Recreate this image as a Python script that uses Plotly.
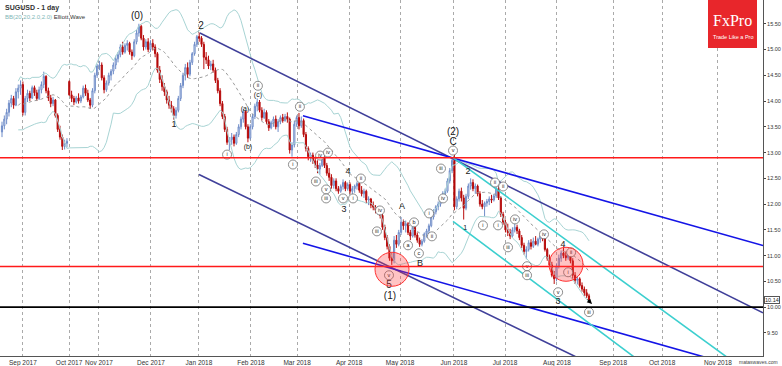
import plotly.graph_objects as go
import pandas as pd

# ---------------- data (bar index = trading day, Aug 2017 .. Aug 2018) ----------------
open_ = [
 13.40,13.52,13.65,13.78,13.96,14.05,13.92,14.18,14.25,
 14.32,13.78,14.05,14.15,14.06,14.26,14.16,14.05,14.22,14.32,14.48,14.20,14.06,13.95,14.02,13.72,13.45,13.30,13.12,13.18,
 14.38,14.12,14.05,13.98,14.06,14.00,14.08,14.25,14.15,14.02,13.92,14.20,14.50,
 14.68,14.70,14.45,14.22,14.35,14.50,14.58,14.70,14.82,14.90,15.05,14.95,15.08,15.12,14.95,14.88,15.15,15.32,15.45,15.22,15.05,15.15,
 15.00,15.12,15.05,14.92,14.60,14.42,14.28,14.18,14.02,13.92,13.85,13.72,13.82,14.05,14.30,14.50,14.65,14.52,14.75,14.92,15.10,
 15.25,15.22,15.10,14.85,14.80,14.68,14.72,14.60,14.40,14.20,13.95,13.70,13.45,13.20,13.25,13.30,13.18,13.35,13.50,13.65,13.80,13.50,
 13.28,13.50,13.70,13.90,13.98,13.82,13.68,13.78,13.60,13.48,13.58,13.65,13.50,13.60,13.68,13.62,13.70,13.65,13.05,13.15,
 13.55,13.68,13.52,13.62,13.35,13.08,12.92,12.95,12.84,12.76,12.68,12.75,12.90,12.75,12.60,12.52,12.36,12.45,12.30,12.25,12.34,12.42,12.30,
 12.38,12.25,12.30,12.35,12.40,12.27,12.20,12.25,12.08,12.10,11.98,11.94,11.88,11.92,11.78,11.55,11.35,11.18,10.95,10.90,11.30,11.22,
 11.45,11.65,11.58,11.62,11.45,11.38,11.55,11.40,11.30,11.22,11.28,11.42,11.48,11.58,11.75,11.85,11.95,12.00,12.10,12.20,12.25,12.45,12.65,
 12.85,11.95,12.10,12.25,12.12,11.92,12.15,12.35,12.42,12.30,12.35,12.20,12.00,11.95,12.02,12.05,12.10,12.08,12.16,12.30,12.12,11.80,
 11.65,11.50,11.45,11.38,11.50,11.55,11.48,11.35,11.20,11.08,11.12,11.25,11.18,11.28,11.22,11.32,11.38,11.33,11.12,10.95,10.82,10.62,
 10.55,10.80,10.95,11.05,11.00,10.96,11.04,10.90,10.62,10.52,10.55,10.42,10.35,10.28,10.22,
]
high = [
 13.60,13.72,13.85,14.02,14.12,14.10,14.25,14.32,14.40,
 14.38,14.10,14.22,14.20,14.30,14.30,14.22,14.28,14.38,14.57,14.50,14.26,14.12,14.08,14.04,13.76,13.52,13.35,13.25,13.28,
 14.40,14.20,14.10,14.10,14.15,14.12,14.30,14.32,14.22,14.06,14.25,14.55,14.72,
 14.78,14.75,14.50,14.40,14.55,14.62,14.75,14.88,14.95,15.10,15.15,15.12,15.18,15.15,15.00,15.20,15.38,15.50,15.48,15.28,15.20,15.22,
 15.18,15.20,15.10,14.95,14.68,14.50,14.35,14.22,14.10,14.00,13.90,13.88,14.10,14.35,14.55,14.72,14.75,14.80,14.95,15.15,15.28,
 15.33,15.26,15.15,14.95,14.88,14.78,14.80,14.65,14.45,14.25,14.00,13.75,13.50,13.30,13.38,13.35,13.40,13.55,13.70,13.85,13.82,13.55,
 13.55,13.75,13.95,14.05,14.02,13.88,13.85,13.82,13.65,13.62,13.70,13.72,13.65,13.72,13.75,13.75,13.78,13.68,13.20,13.62,
 13.72,13.77,13.70,13.66,13.40,13.12,13.00,13.00,12.92,12.85,12.80,12.95,12.97,12.80,12.70,12.58,12.50,12.50,12.35,12.38,12.48,12.45,12.42,
 12.42,12.35,12.38,12.44,12.42,12.35,12.30,12.28,12.15,12.12,12.05,11.98,11.96,11.95,11.82,11.60,11.40,11.22,11.05,11.38,11.40,11.50,
 11.75,11.70,11.68,11.65,11.50,11.60,11.58,11.45,11.35,11.32,11.45,11.52,11.62,11.78,11.90,11.98,12.05,12.15,12.25,12.30,12.50,12.70,12.90,
 12.97,12.15,12.30,12.32,12.18,12.20,12.40,12.50,12.48,12.40,12.38,12.25,12.08,12.05,12.10,12.15,12.18,12.20,12.38,12.35,12.15,11.85,
 11.70,11.62,11.52,11.55,11.62,11.60,11.52,11.40,11.25,11.18,11.30,11.32,11.35,11.38,11.35,11.42,11.45,11.36,11.15,11.02,10.88,10.70,
 10.85,11.02,11.10,11.18,11.08,11.08,11.08,10.95,10.68,10.60,10.58,10.48,10.40,10.35,10.26,
]
low = [
 13.30,13.45,13.55,13.70,13.88,13.85,13.90,14.05,14.12,
 13.72,13.72,13.98,14.00,14.04,14.10,14.00,14.02,14.15,14.25,14.15,14.00,13.88,13.90,13.68,13.40,13.25,13.05,13.06,13.10,
 14.10,13.98,13.92,13.95,13.95,13.96,14.05,14.10,13.98,13.85,13.88,14.15,14.45,
 14.60,14.40,14.15,14.18,14.30,14.40,14.52,14.62,14.75,14.85,14.90,14.92,14.98,14.90,14.80,14.85,15.10,15.25,15.18,14.98,15.00,14.95,
 14.95,14.98,14.85,14.55,14.35,14.20,14.10,13.95,13.85,13.78,13.64,13.66,13.78,14.00,14.25,14.40,14.45,14.48,14.70,14.88,15.05,
 15.15,15.05,14.62,14.72,14.62,14.60,14.55,14.35,14.15,13.90,13.65,13.40,13.15,13.05,13.15,13.12,13.15,13.30,13.45,13.58,13.45,13.20,
 13.25,13.45,13.65,13.80,13.78,13.62,13.65,13.55,13.42,13.45,13.50,13.45,13.40,13.55,13.58,13.60,13.58,12.98,12.92,13.10,
 13.50,13.45,13.48,13.30,13.02,12.85,12.82,12.78,12.70,12.60,12.57,12.72,12.70,12.55,12.45,12.30,12.30,12.25,12.20,12.22,12.28,12.25,12.26,
 12.20,12.15,12.22,12.28,12.22,12.15,12.12,12.02,11.98,11.92,11.88,11.82,11.80,11.72,11.50,11.30,11.12,10.90,10.82,10.85,11.15,11.18,
 11.40,11.50,11.45,11.40,11.30,11.35,11.35,11.25,11.17,11.18,11.25,11.35,11.42,11.55,11.70,11.80,11.88,11.95,12.02,12.12,12.22,12.40,12.60,
 11.88,11.90,12.05,12.05,11.70,11.88,12.10,12.28,12.25,12.20,12.15,11.95,11.90,11.76,11.95,11.98,12.02,12.05,12.12,12.08,11.75,11.60,
 11.45,11.38,11.32,11.35,11.45,11.42,11.30,11.15,11.02,10.93,11.08,11.12,11.15,11.20,11.18,11.25,11.28,11.08,10.90,10.78,10.58,10.45,
 10.50,10.75,10.88,10.95,10.90,10.92,10.85,10.55,10.45,10.44,10.38,10.30,10.22,10.18,10.10,
]
close = [
 13.52,13.65,13.78,13.96,14.05,13.92,14.18,14.25,14.32,
 13.78,14.05,14.15,14.06,14.26,14.16,14.05,14.22,14.32,14.48,14.20,14.06,13.95,14.02,13.72,13.45,13.30,13.12,13.18,13.22,
 14.12,14.05,13.98,14.06,14.00,14.08,14.25,14.15,14.02,13.92,14.20,14.50,14.68,
 14.70,14.45,14.22,14.35,14.50,14.58,14.70,14.82,14.90,15.05,14.95,15.08,15.12,14.95,14.88,15.15,15.32,15.45,15.22,15.05,15.15,15.00,
 15.12,15.05,14.92,14.60,14.42,14.28,14.18,14.02,13.92,13.85,13.72,13.82,14.05,14.30,14.50,14.65,14.52,14.75,14.92,15.10,15.25,
 15.22,15.10,14.85,14.80,14.68,14.72,14.60,14.40,14.20,13.95,13.70,13.45,13.20,13.25,13.30,13.18,13.35,13.50,13.65,13.80,13.50,13.28,
 13.50,13.70,13.90,13.98,13.82,13.68,13.78,13.60,13.48,13.58,13.65,13.50,13.60,13.68,13.62,13.70,13.65,13.05,13.15,13.55,
 13.68,13.52,13.62,13.35,13.08,12.92,12.95,12.84,12.76,12.68,12.75,12.90,12.75,12.60,12.52,12.36,12.45,12.30,12.25,12.34,12.42,12.30,12.38,
 12.25,12.30,12.35,12.40,12.27,12.20,12.25,12.08,12.10,11.98,11.94,11.88,11.92,11.78,11.55,11.35,11.18,10.95,10.90,11.30,11.22,11.45,
 11.65,11.58,11.62,11.45,11.38,11.55,11.40,11.30,11.22,11.28,11.42,11.48,11.58,11.75,11.85,11.95,12.00,12.10,12.20,12.25,12.45,12.65,12.85,
 11.95,12.10,12.25,12.12,11.92,12.15,12.35,12.42,12.30,12.35,12.20,12.00,11.95,12.02,12.05,12.10,12.08,12.16,12.30,12.12,11.80,11.65,
 11.50,11.45,11.38,11.50,11.55,11.48,11.35,11.20,11.08,11.12,11.25,11.18,11.28,11.22,11.32,11.38,11.33,11.12,10.95,10.82,10.62,10.55,
 10.80,10.95,11.05,11.00,10.96,11.04,10.90,10.62,10.52,10.55,10.42,10.35,10.28,10.22,10.14,
]
bars = list(range(len(close)))

month_ticks = [9.0, 28.9, 41.8, 64.2, 84.9, 107.3, 127.2, 149.6, 171.6, 194.8, 216.8, 239.2, 263.4, 284.5, 308.6]
month_labels = ["Sep 2017", "Oct 2017", "Nov 2017", "Dec 2017", "Jan 2018", "Feb 2018", "Mar 2018",
                "Apr 2018", "May 2018", "Jun 2018", "Jul 2018", "Aug 2018", "Sep 2018", "Oct 2018", "Nov 2018"]
price_ticks = [9.5, 10.0, 10.5, 11.0, 11.5, 12.0, 12.5, 13.0, 13.5, 14.0, 14.5, 15.0, 15.5]

# trend lines: (bar index pair, price pair)
navy_upper = ([85.3, 328.0], [15.32, 9.89])
navy_lower = ([84.9, 328.0], [12.574, 7.28])
blue_upper = ([129.7, 328.0], [13.716, 11.196])
blue_lower = ([129.7, 328.0], [11.239, 8.71])
cyan_upper = ([194.4, 328.0], [12.903, 8.52])
cyan_lower = ([194.4, 328.0], [11.664, 7.16])
red_levels = [12.90, 10.79]
black_level = 10.00
circles = [(168.1, 10.735), (243.1, 10.832)]

# Elliott wave labels
wave_text = ["(0)", "2", "1", "(2)", "C", "4", "3", "A", "B", "5", "(1)", "2", "1", "4", "3"]
wave_x = [58.2, 85.8, 74.1, 194.4, 194.4, 149.1, 147.4, 172.4, 180.2, 166.8, 167.2, 200.9, 199.6, 241.8, 239.7]
wave_y = [15.632, 15.438, 13.542, 13.387, 13.193, 12.632, 11.897, 11.955, 10.852, 10.426, 10.213, 12.632, 11.529, 11.219, 10.097]
wave_size = [10, 10, 9, 10, 10, 9, 9, 9, 9, 10, 10, 9, 7, 9, 9]

minor_text = ["(a)", "(b)", "(c)"]
minor_x = [104.7, 106.0, 110.3]
minor_y = [13.832, 13.097, 14.122]

circ_text = ["i", "ii", "ii", "i", "iv", "iv", "iii", "v", "iii", "v", "i", "ii", "iv", "iii", "v",
             "a", "b", "c", "i", "ii", "iii", "iv", "v", "ii", "ii", "i", "i", "iii", "iv", "v", "iii",
             "iv", "v", "ii", "i", "iii"]
circ_x = [97.0, 110.3, 128.4, 125.4, 137.1, 140.5, 135.3, 139.7, 139.7, 147.0, 151.3, 154.7, 162.9, 161.6, 166.8,
          175.0, 177.6, 179.7, 184.1, 185.3, 189.2, 190.1, 194.4, 212.5, 216.0, 207.3, 213.8, 218.1, 221.1, 226.3, 226.3,
          233.6, 239.7, 245.3, 244.0, 253.0]
circ_y = [12.961, 14.296, 13.890, 12.768, 12.942, 13.000, 12.439, 12.284, 12.110, 12.110, 12.110, 12.497, 11.877, 11.471, 10.619,
          11.200, 11.645, 11.045, 11.819, 11.374, 12.690, 12.110, 13.039, 12.419, 12.342, 11.587, 11.587, 11.161, 11.703, 10.794, 10.619,
          11.413, 10.290, 11.064, 10.677, 9.903]

# ---------------- figure ----------------
s = pd.Series(close)
bb_mid = s.rolling(20, min_periods=8).mean()
bb_sd = s.rolling(20, min_periods=8).std(ddof=0)
bb_up = bb_mid + 2 * bb_sd
bb_lo = bb_mid - 2 * bb_sd

fig = go.Figure()
teal = "#a8d4d4"
fig.add_trace(go.Scatter(x=bars, y=bb_up, mode="lines", line=dict(color=teal, width=1), hoverinfo="skip"))
fig.add_trace(go.Scatter(x=bars, y=bb_lo, mode="lines", line=dict(color=teal, width=1), hoverinfo="skip"))
fig.add_trace(go.Scatter(x=bars, y=bb_mid, mode="lines", line=dict(color="#9a9a9a", width=1, dash="dot"), hoverinfo="skip"))

fig.add_trace(go.Candlestick(
    x=bars, open=open_, high=high, low=low, close=close,
    increasing=dict(line=dict(color="#6f8cc8", width=1), fillcolor="#f2f5fb"),
    decreasing=dict(line=dict(color="#b80c0c", width=1), fillcolor="#a80000"),
    whiskerwidth=0, hoverinfo="skip"))

for (xs, ys), col in [(navy_upper, "#40409a"), (navy_lower, "#40409a"),
                      (blue_upper, "#1414e6"), (blue_lower, "#1414e6"),
                      (cyan_upper, "#3ccfcf"), (cyan_lower, "#3ccfcf")]:
    fig.add_trace(go.Scatter(x=xs, y=ys, mode="lines", line=dict(color=col, width=1.6), hoverinfo="skip"))

fig.add_trace(go.Scatter(x=wave_x, y=wave_y, mode="text", text=wave_text,
                         textfont=dict(family="Liberation Sans", size=wave_size, color="#202020"),
                         hoverinfo="skip", cliponaxis=False))
fig.add_trace(go.Scatter(x=minor_x, y=minor_y, mode="text", text=minor_text,
                         textfont=dict(family="Liberation Sans", size=7, color="#202020"),
                         hoverinfo="skip"))
fig.add_trace(go.Scatter(x=circ_x, y=circ_y, mode="markers+text", text=circ_text,
                         marker=dict(symbol="circle", size=9, color="white", line=dict(color="#707070", width=0.8)),
                         textfont=dict(family="Liberation Sans", size=5.5, color="#202020"),
                         textposition="middle center", hoverinfo="skip", cliponaxis=False))

shapes = []
for lv in red_levels:
    shapes.append(dict(type="line", xref="paper", x0=0, x1=1, yref="y", y0=lv, y1=lv,
                       line=dict(color="#ff1a1a", width=1.6), layer="above"))
shapes.append(dict(type="line", xref="paper", x0=0, x1=1, yref="y", y0=black_level, y1=black_level,
                   line=dict(color="#000000", width=1.6), layer="above"))
for cx, cy in circles:
    shapes.append(dict(type="circle", xref="x", yref="y", xsizemode="pixel", ysizemode="pixel",
                       xanchor=cx, yanchor=cy, x0=-17, x1=17, y0=-17, y1=17,
                       fillcolor="rgba(255,60,60,0.30)", line=dict(color="#ff3030", width=1), layer="above"))
# logo box
shapes.append(dict(type="rect", xref="paper", yref="paper", x0=708/763, x1=757/763, y0=1-48/356, y1=1,
                   fillcolor="#e8262b", line=dict(width=0), layer="above"))

annotations = [
    dict(xref="paper", yref="paper", x=0.004, y=0.995, xanchor="left", yanchor="top", showarrow=False,
         text="<b>SUGUSD - 1 day</b>", font=dict(family="Liberation Sans", size=7, color="#333")),
    dict(xref="paper", yref="paper", x=0.004, y=0.967, xanchor="left", yanchor="top", showarrow=False,
         text="<span style='color:#7fb7b7'>BB(20,20,2.0,2.0)</span> Elliott Wave",
         font=dict(family="Liberation Sans", size=6, color="#333")),
    dict(xref="paper", yref="paper", x=732.5/763, y=1-21/356, xanchor="center", yanchor="middle",
         showarrow=False, text="FxPro",
         font=dict(family="Liberation Serif", size=16, color="white")),
    dict(xref="paper", yref="paper", x=732.5/763, y=1-37/356, xanchor="center", yanchor="middle",
         showarrow=False, text="Trade Like a Pro",
         font=dict(family="Liberation Sans", size=5.5, color="white")),
    dict(xref="paper", yref="y", x=1.001, y=close[-1], xanchor="left", yanchor="middle", showarrow=False,
         text=f"{close[-1]:.2f}", font=dict(family="Liberation Sans", size=5.5, color="#222"),
         bordercolor="#555", borderwidth=1, borderpad=0, bgcolor="white"),
    dict(xref="paper", yref="paper", x=780/763, y=-0.002, xanchor="right", yanchor="top", showarrow=False,
         text="mataswaves.com", font=dict(family="Liberation Sans", size=5, color="#444")),
    dict(x=254.3, y=10.06, xref="x", yref="y", ax=-6, ay=-6, showarrow=True, arrowhead=2,
         arrowsize=1, arrowwidth=1, arrowcolor="#000", text=""),
]

fig.update_layout(
    width=782, height=366, template="none",
    margin=dict(l=0, r=19, t=0, b=10),
    paper_bgcolor="white", plot_bgcolor="white",
    showlegend=False, shapes=shapes, annotations=annotations,
    xaxis=dict(range=[-0.86, 328.0], tickvals=month_ticks, ticktext=month_labels,
               showgrid=True, gridcolor="#aaaaaa", griddash="dot", gridwidth=1,
               zeroline=False, showline=True, linecolor="#555", linewidth=1, mirror=True,
               ticks="", tickfont=dict(family="Liberation Sans", size=6.5, color="#333"),
               ticklabeloverflow="allow",
               rangeslider=dict(visible=False), automargin=False, fixedrange=True),
    yaxis=dict(range=[9.052, 15.961], side="right", tickvals=price_ticks, tickformat=".2f",
               showgrid=False, zeroline=False, showline=True, linecolor="#555", linewidth=1, mirror=True,
               ticks="outside", ticklen=2, tickcolor="#444", ticklabeloverflow="allow",
               tickfont=dict(family="Liberation Sans", size=5.5, color="#333"),
               automargin=False, fixedrange=True),
)

fig.write_html("out.html", config={"displayModeBar": False, "staticPlot": True},
               post_script="document.body.style.margin='0';document.body.style.padding='0';")
